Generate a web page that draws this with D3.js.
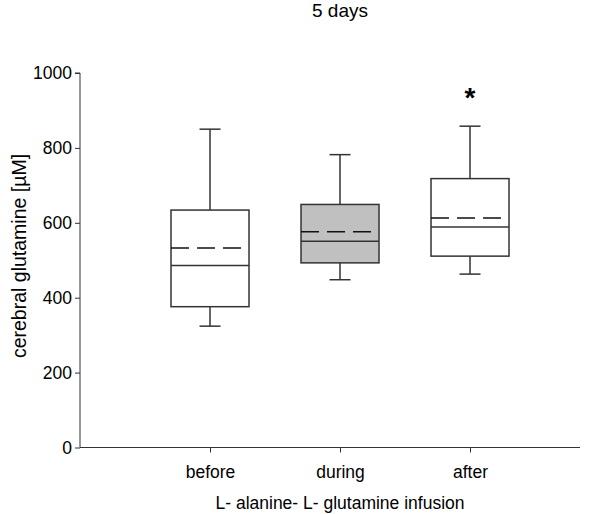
<!DOCTYPE html>
<html>
<head>
<meta charset="utf-8">
<script src="https://cdn.jsdelivr.net/npm/d3@7"></script>
<style>
body{margin:0;background:#fff;}
text{font-family:"Liberation Sans",Arial,sans-serif;fill:#000;}
</style>
</head>
<body>
<svg id="chart" width="600" height="514"></svg>
<script>
const categories = ["before", "during", "after"];
const whiskerLow  = [324, 448, 463];
const q1          = [376, 493, 511];
const median      = [486, 551, 589];
const mean        = [533, 576, 613];
const q3          = [634, 649, 718];
const whiskerHigh = [850, 782, 858];
const fills       = ["#ffffff", "#c0c0c0", "#ffffff"];
const yTicks      = [0, 200, 400, 600, 800, 1000];
const significant = [false, false, true];

const svg = d3.select("#chart");
const y = d3.scaleLinear().domain([0, 1000]).range([447.5, 73]);
const x = d3.scaleLinear().domain([0, 3.846]).range([80, 580]);
const boxW = 78, capW = 21;
const stroke = "#333";
const FONT = "Liberation Sans, Arial, sans-serif";

// y axis
const yAxis = svg.append("g").attr("transform","translate(80,0)")
  .call(d3.axisLeft(y).tickValues(yTicks).tickSize(5).tickPadding(3).tickFormat(d3.format("d")));
yAxis.select(".domain").attr("stroke",stroke).attr("d",`M-5,${y(1000)}H0V${y(0)}`);
yAxis.selectAll(".tick line").attr("stroke",stroke);
yAxis.selectAll(".tick text").style("font-size","17.5px").style("font-family",FONT).attr("fill","#000");

// x axis
const xAxis = svg.append("g").attr("transform",`translate(0,${y(0)})`)
  .call(d3.axisBottom(x).tickValues([1,2,3]).tickSize(5).tickPadding(13).tickFormat(d=>categories[d-1]));
xAxis.select(".domain").attr("stroke",stroke).attr("d",`M80,0H580`);
xAxis.selectAll(".tick line").attr("stroke",stroke);
xAxis.selectAll(".tick text").style("font-size","17.5px").style("font-family",FONT).attr("fill","#000");

const g = svg.append("g");
categories.forEach((c,i)=>{
  const cx = x(i+1);
  const gg = g.append("g").attr("stroke",stroke).attr("stroke-width",1.5);
  gg.append("line").attr("x1",cx).attr("x2",cx).attr("y1",y(whiskerHigh[i])).attr("y2",y(q3[i]));
  gg.append("line").attr("x1",cx).attr("x2",cx).attr("y1",y(q1[i])).attr("y2",y(whiskerLow[i]));
  gg.append("line").attr("x1",cx-capW/2).attr("x2",cx+capW/2).attr("y1",y(whiskerHigh[i])).attr("y2",y(whiskerHigh[i]));
  gg.append("line").attr("x1",cx-capW/2).attr("x2",cx+capW/2).attr("y1",y(whiskerLow[i])).attr("y2",y(whiskerLow[i]));
  gg.append("rect").attr("x",cx-boxW/2).attr("width",boxW)
    .attr("y",y(q3[i])).attr("height",y(q1[i])-y(q3[i])).attr("fill",fills[i]);
  gg.append("line").attr("x1",cx-boxW/2).attr("x2",cx+boxW/2).attr("y1",y(median[i])).attr("y2",y(median[i]));
  gg.append("line").attr("x1",cx-boxW/2).attr("x2",cx+boxW/2 - 4).attr("y1",y(mean[i])).attr("y2",y(mean[i]))
    .attr("stroke-dasharray","18,8").attr("stroke","#111");
  if (significant[i]) {
    svg.append("text").attr("x",cx).attr("y",y(whiskerHigh[i]) - 19).attr("text-anchor","middle")
      .style("font-size","28px").style("font-weight","bold").text("*");
  }
});

svg.append("text").attr("x",x(2)).attr("y",17).attr("text-anchor","middle").style("font-size","19px").text("5 days");
svg.append("text").attr("x",x(2)).attr("y",509).attr("text-anchor","middle").style("font-size","17.5px").text("L- alanine- L- glutamine infusion");
svg.append("text").attr("transform",`translate(26,256) rotate(-90)`).attr("text-anchor","middle")
  .style("font-size","19.5px").text("cerebral glutamine [µM]");
</script>
</body>
</html>
